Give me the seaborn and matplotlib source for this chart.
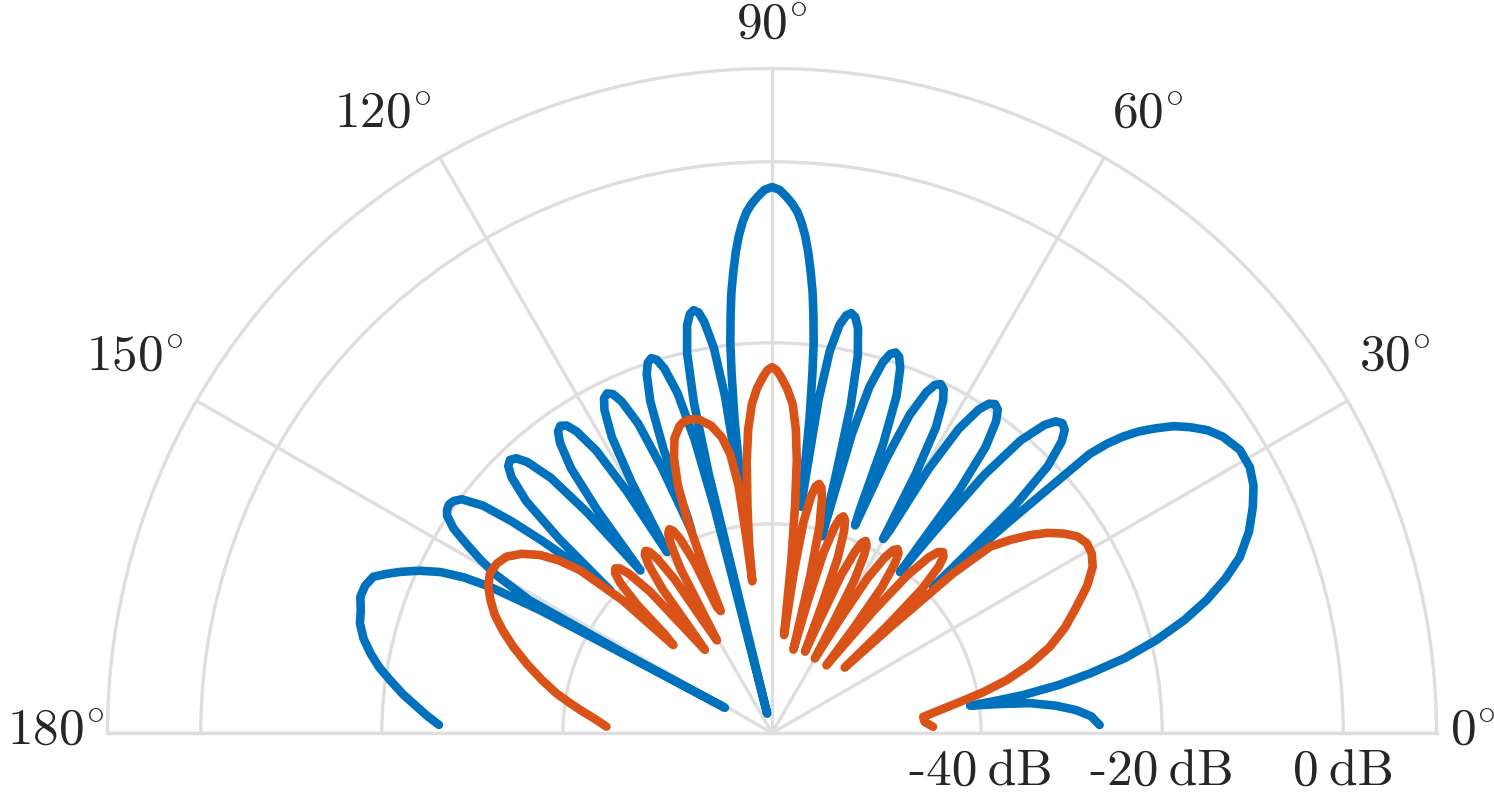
import numpy as np
import matplotlib
matplotlib.use("Agg")
import matplotlib.pyplot as plt
import seaborn as sns

# Beam patterns (angle in degrees, level in dB), one row per lobe
blue_deg = [1.4, 3.0, 4.3, 5.5, 6.6, 7.25, 7.85,
            8.2, 8.6, 9.5, 10.6, 12.0, 13.6, 15.3, 17.0, 18.8, 20.6, 22.9, 25.2, 27.2, 29.1, 31.2, 33.3, 34.8, 36.2, 37.4, 38.4, 39.4, 40.2, 40.8, 41.3, 41.7, 42.2,
            42.57, 43.13, 44.06, 45.18, 46.01, 46.85, 47.69, 48.52, 49.64, 50.57, 51.13, 51.5,
            51.85, 52.37, 53.24, 54.28, 55.07, 55.85, 56.63, 57.42, 58.46, 59.33, 59.85, 60.2,
            61.0, 61.8, 62.76, 63.48, 64.2, 64.92, 65.64, 66.6, 67.4, 68.2,
            68.5, 68.96, 69.72, 70.63, 71.32, 72.0, 72.68, 73.37, 74.28, 75.04, 75.5, 75.8,
            76.08, 76.49, 77.18, 78.0, 78.68, 79.3, 79.92, 80.6, 81.4, 82.05, 82.45, 82.7,
            83.2, 83.6, 83.9, 84.3, 84.7, 85.2, 85.7, 86.2, 86.7, 87.2, 87.8, 88.5, 89.2, 90.0,
            90.8, 91.5, 92.2, 92.8, 93.3, 93.8, 94.3, 94.8, 95.3, 95.7, 96.1, 96.4, 96.8, 97.3,
            97.56, 97.94, 98.58, 99.35, 99.9, 100.5, 101.1, 101.76, 102.6, 103.3, 103.72, 104.0,
            104.31, 104.77, 105.54, 106.46, 107.16, 107.85, 108.54, 109.24, 110.16, 110.93, 111.39, 111.7,
            112.54, 113.38, 114.39, 115.14, 115.9, 116.66, 117.41, 118.42, 119.26, 120.1,
            120.99, 121.88, 122.95, 123.75, 124.55, 125.35, 126.15, 127.22, 128.11, 129.0,
            129.96, 130.92, 132.07, 132.94, 133.8, 134.66, 135.53, 136.68, 137.64, 138.6,
            139.2, 140.1, 140.9, 141.8, 143.0, 143.9, 144.7, 145.5, 146.2, 147.3, 148.3, 149.3, 150.2, 151.3, 151.7, 151.8,
            151.95, 152.0, 152.1, 152.6, 153.2, 154.1, 155.3, 156.6, 157.6, 158.6, 160.1, 161.7, 163.4, 165.1, 167.0, 168.8, 170.5, 172.1, 174.0, 175.8, 177.2, 178.6]
blue_db = [-26.9, -27.8, -29.4, -31.6, -34.4, -37.7, -41.0,
           -38.0, -35.0, -31.0, -27.4, -23.2, -19.4, -15.9, -12.9, -10.2, -7.9, -5.9, -4.4, -3.3, -2.7, -2.7, -3.5, -4.5, -5.9, -7.3, -8.9, -10.6, -12.4, -14.2, -16.4, -27.8, -39.1,
           -34.2, -26.2, -20.7, -17.7, -16.55, -16.2, -16.55, -17.7, -20.7, -26.2, -34.2, -40.4,
           -37.2, -29.2, -23.7, -20.7, -19.55, -19.2, -19.55, -20.7, -23.7, -29.2, -37.2, -38.4,
           -30.3, -24.8, -21.8, -20.65, -20.3, -20.65, -21.8, -24.8, -30.3, -38.4,
           -36.9, -28.9, -23.4, -20.4, -19.25, -18.9, -19.25, -20.4, -23.4, -28.9, -36.9, -40.7,
           -33.9, -25.9, -20.4, -17.4, -16.25, -15.9, -16.25, -17.4, -20.4, -25.9, -33.9, -37.9,
           -28.0, -23.0, -19.8, -17.0, -14.4, -12.0, -9.8, -8.0, -6.6, -5.5, -4.6, -3.8, -3.1, -2.8,
           -3.1, -3.8, -4.6, -5.5, -6.6, -8.0, -9.8, -12.0, -14.4, -17.0, -19.8, -23.0, -28.0, -37.5,
           -33.6, -25.6, -20.1, -17.1, -15.95, -15.6, -15.95, -17.1, -20.1, -25.6, -33.6, -60.9,
           -37.6, -29.6, -24.1, -21.1, -19.95, -19.6, -19.95, -21.1, -24.1, -29.6, -37.6, -39.0,
           -31.4, -25.9, -22.9, -21.75, -21.4, -21.75, -22.9, -25.9, -31.4, -40.0,
           -31.9, -26.4, -23.4, -22.25, -21.9, -22.25, -23.4, -26.4, -31.9, -40.0,
           -31.3, -25.8, -22.8, -21.65, -21.3, -21.65, -22.8, -25.8, -31.3, -39.3,
           -35.0, -30.0, -26.0, -22.5, -20.2, -19.6, -19.4, -19.55, -19.9, -21.3, -23.5, -25.7, -28.0, -32.5, -45.0, -57.2,
           -46.0, -40.0, -34.1, -28.0, -25.0, -22.4, -20.2, -18.3, -17.0, -15.8, -15.3, -15.2, -15.7, -16.0, -16.8, -17.9, -19.1, -20.5, -22.1, -23.8, -25.0, -26.3]

orange_deg = [2.2, 4.2, 6.1, 7.6, 9.1, 10.9, 12.7, 14.9, 17.2, 19.8, 22.5, 25.0, 27.4, 29.3, 31.1, 32.8, 34.4, 36.0, 37.5, 39.0, 40.5, 41.4, 41.8, 42.0,
              42.92, 43.84, 44.94, 45.77, 46.6, 47.43, 48.26, 49.36, 50.28, 51.2,
              52.09, 52.98, 54.05, 54.85, 55.65, 56.45, 57.25, 58.32, 59.21, 60.1,
              60.88, 61.66, 62.6, 63.3, 64.0, 64.7, 65.4, 66.34, 67.12, 67.9,
              68.67, 69.44, 70.36, 71.06, 71.75, 72.44, 73.14, 74.06, 74.83, 75.6,
              76.34, 77.08, 77.97, 78.63, 79.3, 79.97, 80.63, 81.52, 82.26, 83.0,
              83.6, 84.2, 84.8, 85.5, 86.4, 87.5, 88.6, 89.3, 90.0, 90.7, 91.4, 92.5, 93.5, 94.5, 95.3, 96.2, 96.9, 97.4,
              97.5, 97.7, 98.5, 99.6, 101.2, 103.0, 104.0, 105.0, 106.0, 106.8, 108.3, 109.6, 110.8, 111.6, 112.3, 112.8,
              113.59, 114.38, 115.33, 116.04, 116.75, 117.46, 118.17, 119.12, 119.91, 120.7,
              121.52, 122.34, 123.32, 124.06, 124.8, 125.54, 126.28, 127.26, 128.08, 128.9,
              129.84, 130.78, 131.91, 132.75, 133.6, 134.45, 135.29, 136.42, 137.36, 138.3,
              138.4, 139.7, 141.0, 142.5, 144.4, 146.4, 148.4, 150.5, 152.6, 154.7, 156.9, 159.2, 161.6, 164.3, 167.0, 169.6, 171.4, 173.2, 175.5, 177.8]
orange_db = [-45.3, -46.2, -46.3, -44.6, -42.5, -39.4, -36.5, -33.6, -31.0, -28.7, -26.7, -24.7, -23.2, -22.6, -22.5, -23.0, -24.1, -25.5, -27.2, -29.2, -31.4, -36.5, -45.6, -52.3,
             -45.6, -40.1, -37.1, -35.95, -35.6, -35.95, -37.1, -40.1, -45.6, -53.5,
             -48.5, -43.0, -40.0, -38.85, -38.5, -38.85, -40.0, -43.0, -48.5, -53.6,
             -49.5, -44.0, -41.0, -39.85, -39.5, -39.85, -41.0, -44.0, -49.5, -53.4,
             -47.9, -42.4, -39.4, -38.25, -37.9, -38.25, -39.4, -42.4, -47.9, -53.6,
             -45.1, -39.6, -36.6, -35.45, -35.1, -35.45, -36.6, -39.6, -45.1, -52.2,
             -44.0, -38.0, -32.9, -29.5, -26.7, -25.0, -23.7, -23.0, -22.7, -23.0, -23.7, -25.0, -26.7, -29.5, -32.9, -38.0, -42.0, -46.2,
             -41.0, -35.5, -32.0, -30.0, -28.5, -27.6, -27.35, -27.3, -27.4, -27.7, -28.8, -30.8, -33.8, -37.5, -43.0, -48.5,
             -47.9, -42.4, -39.4, -38.25, -37.9, -38.25, -39.4, -42.4, -47.9, -51.2,
             -48.6, -43.1, -40.1, -38.95, -38.6, -38.95, -40.1, -43.1, -48.6, -51.3,
             -48.0, -42.5, -39.5, -38.35, -38.0, -38.35, -39.5, -42.5, -47.0, -48.5,
             -41.0, -35.3, -32.8, -30.8, -29.1, -27.9, -27.4, -27.3, -27.8, -28.7, -29.8, -31.3, -33.0, -35.0, -37.0, -38.9, -40.4, -41.8, -43.5, -44.8]

theta_ticks = [0, 30, 60, 90, 120, 150, 180]
r_ticks = [-40, -20, 0]
r_tick_labels = ['-40', '-20', '0']
r_min, r_max = -63.1, 10.3

sns.set_theme(style='white')
plt.rcParams['mathtext.fontset'] = 'cm'
plt.rcParams['axes.unicode_minus'] = False

grid_col = '#dedede'
blue = '#0072BD'
orange = '#D95319'

W, H = 1494, 794
cx, cy, R = 772, 61, 664.5   # centre (px from left / bottom) and outer radius
fig = plt.figure(figsize=(W / 100, H / 100), dpi=100)
# the half disc sits in the middle of a square box
ax = fig.add_axes([(cx - R) / W, (cy - R / 2) / H, 2 * R / W, 2 * R / H], projection='polar')
ax.set_thetamin(0)
ax.set_thetamax(180)
ax.set_rlim(r_min, r_max)
ax.set_thetagrids(theta_ticks, labels=[''] * len(theta_ticks))
ax.set_rgrids(r_ticks, labels=[''] * len(r_ticks))
ax.grid(True, color=grid_col, linewidth=2.4)
for sp in ax.spines.values():
    sp.set_color(grid_col)
    sp.set_linewidth(2.4)

sns.lineplot(x=np.deg2rad(blue_deg), y=blue_db, ax=ax, sort=False, estimator=None,
             color=blue, linewidth=6.2, solid_capstyle='round', solid_joinstyle='round')
sns.lineplot(x=np.deg2rad(orange_deg), y=orange_db, ax=ax, sort=False, estimator=None,
             color=orange, linewidth=6.2, solid_capstyle='round', solid_joinstyle='round')
ax.set_xlabel('')
ax.set_ylabel('')

# angle labels around the arc (offsets in pixels, ha, va)
lab_style = {0: ((13, 2), 'left', 'center'), 30: ((12, 19), 'left', 'bottom'),
             60: ((8, 19), 'left', 'bottom'), 90: ((0, 19), 'center', 'bottom'),
             120: ((-8, 19), 'right', 'bottom'), 150: ((-13, 19), 'right', 'bottom'),
             180: ((-3, 2), 'right', 'center')}
for t in theta_ticks:
    off, ha, va = lab_style[t]
    ax.annotate(r'$%d^{\circ}$' % t, xy=(np.deg2rad(t), r_max), xytext=off,
                textcoords='offset pixels', ha=ha, va=va, fontsize=37,
                color='#262626', annotation_clip=False)

# dB labels under the baseline
for r, lab in zip(r_ticks, r_tick_labels):
    ax.annotate(lab + '\u2009dB', xy=(0, r), xytext=(0, -17), textcoords='offset pixels',
                ha='center', va='top', fontsize=37, family=['cmr10', 'DejaVu Serif'],
                color='#262626', annotation_clip=False)

fig.savefig('out.png', dpi=100)
